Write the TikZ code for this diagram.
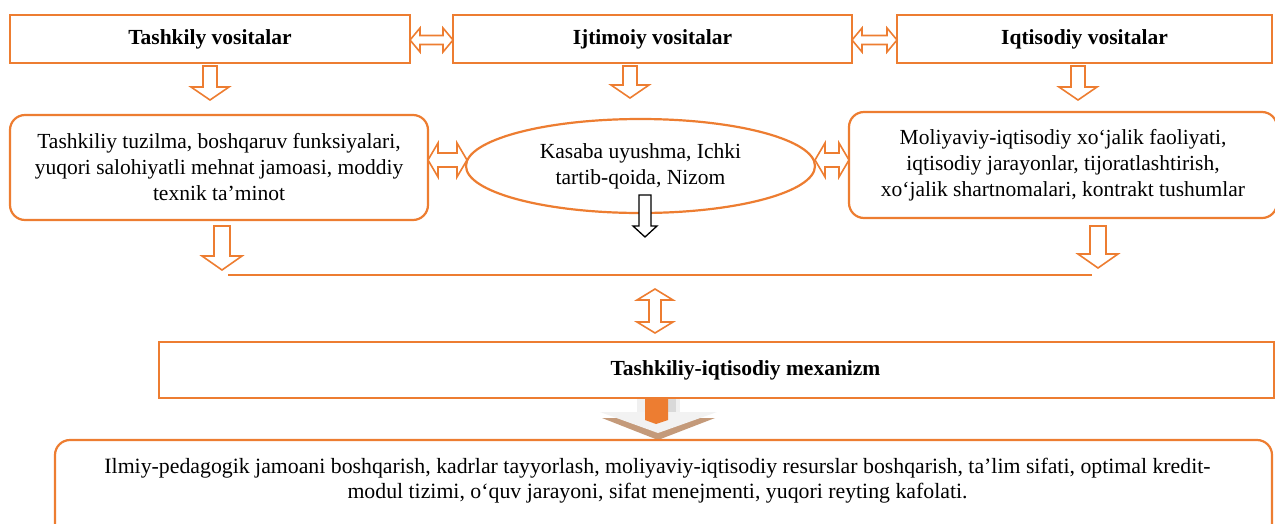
\documentclass[tikz,border=0pt]{standalone}
\usepackage{fontspec}
\setmainfont{Liberation Serif}
\usetikzlibrary{shapes.geometric,calc}
\definecolor{orng}{HTML}{ED7D31}
\definecolor{tan}{HTML}{C49A7A}
\tikzset{
  obox/.style={draw=orng, line width=2.2pt, fill=white, minimum height=48pt, inner sep=0pt, font=\fontsize{21.5}{24}\selectfont\bfseries},
  rbox/.style={draw=orng, line width=2.2pt, fill=white, rounded corners=15pt, inner sep=0pt, align=center, font=\fontsize{21.5}{26}\selectfont},
  ebox/.style={draw=orng, line width=2.2pt, fill=white, ellipse, inner sep=0pt, align=center, font=\fontsize{21.5}{26}\selectfont},
  hol/.style={draw=orng, line width=1.6pt, fill=white, line join=miter},
  holk/.style={draw=black, line width=1.3pt, fill=white, line join=miter},
  conn/.style={draw=orng, line width=2pt}
}
% down block arrow: style, x, ytop, ytip, shaft half, head half, head length
\newcommand{\blkdown}[7]{\draw[#1] (#2-#5,#3) -- (#2+#5,#3) -- (#2+#5,#4-#7) -- (#2+#6,#4-#7) -- (#2,#4) -- (#2-#6,#4-#7) -- (#2-#5,#4-#7) -- cycle;}
% horizontal double block arrow: x1, x2, y, shaft half, head half, head length
\newcommand{\blkhdbl}[6]{\draw[hol] (#1,#3) -- (#1+#6,#3-#5) -- (#1+#6,#3-#4) -- (#2-#6,#3-#4) -- (#2-#6,#3-#5) -- (#2,#3) -- (#2-#6,#3+#5) -- (#2-#6,#3+#4) -- (#1+#6,#3+#4) -- (#1+#6,#3+#5) -- cycle;}
% vertical double block arrow: x, y1, y2, shaft half, head half, head length
\newcommand{\blkvdbl}[6]{\draw[hol] (#1,#2) -- (#1+#5,#2+#6) -- (#1+#4,#2+#6) -- (#1+#4,#3-#6) -- (#1+#5,#3-#6) -- (#1,#3) -- (#1-#5,#3-#6) -- (#1-#4,#3-#6) -- (#1-#4,#2+#6) -- (#1-#5,#2+#6) -- cycle;}
\begin{document}
\begin{tikzpicture}[x=1pt,y=-1pt]
\useasboundingbox (0,0) rectangle (1275,523);
\clip (0,0) rectangle (1275,523);
% top row
\node[obox, minimum width=400pt] (t1) at (210,39) {Tashkily vositalar};
\node[obox, minimum width=399pt] (t2) at (652.5,39) {Ijtimoiy vositalar};
\node[obox, minimum width=375pt] (t3) at (1084.5,39) {Iqtisodiy vositalar};
\blkhdbl{410}{453}{40}{4.5}{12}{10}
\blkhdbl{852}{897}{40}{4.5}{12}{10}
\blkdown{hol}{210}{66}{100}{7}{19}{13}
\blkdown{hol}{630}{66}{98}{7}{19}{13}
\blkdown{hol}{1078}{66}{100}{7}{19}{13}
% middle row
\node[rbox, minimum width=418pt, minimum height=105pt] (m1) at (219,167.5) {Tashkiliy tuzilma, boshqaruv funksiyalari,\\yuqori salohiyatli mehnat jamoasi, moddiy\\texnik ta’minot};
\node[ebox, minimum width=349pt, minimum height=94pt] (m2) at (640.5,166) {Kasaba uyushma, Ichki\\tartib-qoida, Nizom};
\node[rbox, minimum width=428pt, minimum height=106pt] (m3) at (1063,165) {Moliyaviy-iqtisodiy xo‘jalik faoliyati,\\iqtisodiy jarayonlar, tijoratlashtirish,\\xo‘jalik shartnomalari, kontrakt tushumlar};
\blkhdbl{428}{467}{160}{7}{17}{10}
\blkhdbl{815}{849}{160}{7}{17}{10}
\blkdown{holk}{645}{195}{237}{6}{12}{11}
\blkdown{hol}{222}{226}{270}{8}{20}{14}
\blkdown{hol}{1098}{226}{268}{8}{20}{14}
% joining line
\coordinate (l1) at (228,275);
\coordinate (l2) at (1092,275);
\draw[conn] (l1) -- (l2);
\blkvdbl{655}{289}{333}{6}{18}{11}
% mechanism
\node[obox, minimum width=1115pt, minimum height=56pt] (mech) at (716.5,370) {\hspace*{58pt}Tashkiliy-iqtisodiy mexanizm};
% filled arrow
\fill[gray!12] (637,399) rectangle (680,415);
\fill[gray!30] (668,399) rectangle (676,418);
\fill[tan] (602,418) -- (715,418) -- (658,440) -- cycle;
\fill[gray!10] (600,412) -- (717,412) -- (658,433) -- cycle;
\fill[orng] (645,399) -- (668,399) -- (668,420) -- (656,424) -- (645,420) -- cycle;
% bottom
\node[rbox, minimum width=1217pt, minimum height=110pt] (bot) at (663.5,495) {};
\node[font=\fontsize{21.8}{25}\selectfont, align=center, anchor=north, inner sep=0pt] (bottxt) at ($(bot.north)+(-6,19)$) {Ilmiy-pedagogik jamoani boshqarish, kadrlar tayyorlash, moliyaviy-iqtisodiy resurslar boshqarish, ta’lim sifati, optimal kredit-\\modul tizimi, o‘quv jarayoni, sifat menejmenti, yuqori reyting kafolati.};
\end{tikzpicture}
\end{document}
